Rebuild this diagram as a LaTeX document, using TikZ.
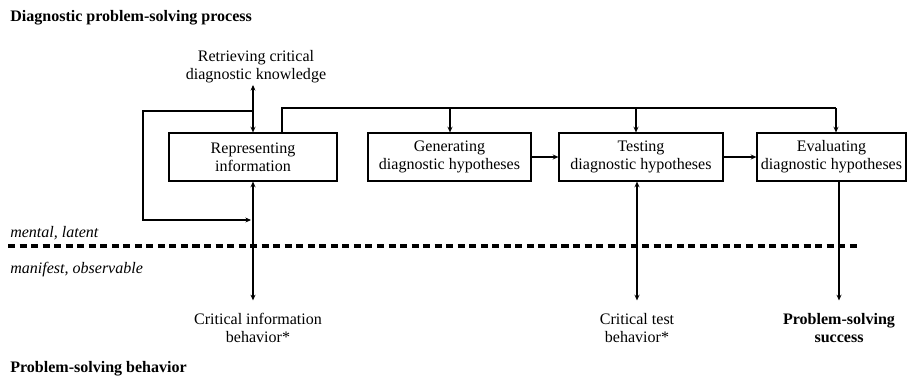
\documentclass[tikz,border=0pt]{standalone}
\usepackage{fontspec}
\setmainfont{Liberation Serif}
\usetikzlibrary{arrows.meta}

\newcommand\dfont{\fontsize{11.4}{12.8}\selectfont}

\begin{document}
\begin{tikzpicture}[x=0.025cm, y=-0.025cm, font=\dfont,
    box/.style={draw, line width=0.8pt, align=center, minimum height=1.2cm, inner xsep=1pt},
    lbl/.style={align=center, inner xsep=0pt, inner ysep=1pt},
    beh/.style={align=center, inner xsep=0pt, inner ysep=9pt},
    side/.style={anchor=base west, inner sep=0pt},
    con/.style={line width=0.8pt},
    arr/.style={con, -{Stealth[length=4pt, width=3.5pt]}},
    dbl/.style={con, {Stealth[length=4pt, width=3.5pt]}-{Stealth[length=4pt, width=3.5pt]}}]
    \useasboundingbox (0,0) rectangle (908,384);

    % Headings and levels
    \node[side, font=\dfont\bfseries] (head) at (10,21) {Diagnostic problem-solving process};
    \node[side, font=\dfont\itshape] (ment) at (10,237) {mental, latent};
    \node[side, font=\dfont\itshape] (mani) at (10,273) {manifest, observable};
    \node[side, font=\dfont\bfseries] (psb) at (10,372) {Problem-solving behavior};
    \draw[line width=2.2pt, dash pattern=on 5pt off 3.2pt] (8,246) -- (861,246);

    % Process steps
    \node[box, minimum width=4.2cm] (rep) at (253,157) {Representing\\information};
    \node[box, minimum width=4.075cm] (gen) at (449.5,157) {Generating\\diagnostic hypotheses};
    \node[box, minimum width=4.1cm] (test) at (641,157) {Testing\\diagnostic hypotheses};
    \node[box, minimum width=3.725cm] (eval) at (831.5,157) {Evaluating\\diagnostic hypotheses};
    \draw[arr] (gen) -- (test);
    \draw[arr] (test) -- (eval);

    % Knowledge retrieval and feedback loop
    \node[lbl] (retr) at (256,67) {Retrieving critical\\diagnostic knowledge};
    \draw[dbl] (rep.north |- retr.south) -- (rep.north);
    \coordinate (fbtop) at (253,111);
    \coordinate (fbend) at (251,220);
    \draw[arr] (fbtop) -- (143,111) |- (fbend);

    % Bus from representing to the other steps
    \coordinate (busL) at (282,108);
    \coordinate (busG) at (450,108);
    \coordinate (busT) at (636,108);
    \coordinate (busE) at (836,108);
    \draw[con] (rep.north -| busL) -- (busL) -- (busE);
    \draw[arr] (busG) -- (busG |- gen.north);
    \draw[arr] (busT) -- (busT |- test.north);
    \draw[arr] (busE) -- (busE |- eval.north);

    % Observable behavior
    \node[beh] (crinfo) at (258,328) {Critical information\\behavior*};
    \node[beh] (crtest) at (637,328) {Critical test\\behavior*};
    \node[beh, font=\dfont\bfseries] (succ) at (839,328) {Problem-solving\\success};
    \draw[dbl] (rep.south) -- (rep.south |- crinfo.north);
    \draw[dbl] (crtest.north |- test.south) -- (crtest.north);
    \draw[arr] (succ.north |- eval.south) -- (succ.north);
\end{tikzpicture}
\end{document}
